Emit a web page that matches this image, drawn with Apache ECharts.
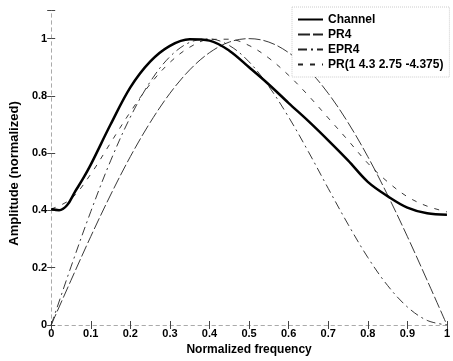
<!DOCTYPE html>
<html>
<head>
<meta charset="utf-8">
<script src="https://cdn.jsdelivr.net/npm/echarts@6/dist/echarts.min.js"></script>
<style>
html,body{margin:0;padding:0;background:#fff;}
#chart{width:453px;height:361px;}
</style>
</head>
<body>
<div id="chart"></div>
<script>
// ---- data ----
var seriesNames = ['Channel', 'PR4', 'EPR4', 'PR(1 4.3 2.75 -4.375)'];
var xTicks = [0, 0.1, 0.2, 0.3, 0.4, 0.5, 0.6, 0.7, 0.8, 0.9, 1];
var yTicks = [0, 0.2, 0.4, 0.6, 0.8, 1];

var channelFreq = [0, 0.02, 0.04, 0.06, 0.08, 0.1, 0.15, 0.2, 0.25, 0.3, 0.35, 0.4, 0.45, 0.5, 0.55, 0.6, 0.65, 0.7, 0.75, 0.8, 0.85, 0.9, 0.95, 1.0];
var channel     = [0.405, 0.401, 0.418, 0.465, 0.51, 0.56, 0.70, 0.83, 0.92, 0.975, 0.998, 0.993, 0.958, 0.90, 0.84, 0.775, 0.712, 0.645, 0.575, 0.50, 0.45, 0.41, 0.39, 0.385];

var freq     = [0, 0.05, 0.1, 0.15, 0.2, 0.25, 0.3, 0.35, 0.4, 0.45, 0.5, 0.55, 0.6, 0.65, 0.7, 0.75, 0.8, 0.85, 0.9, 0.95, 1.0];
var pr4      = [0, 0.156, 0.309, 0.454, 0.588, 0.707, 0.809, 0.891, 0.951, 0.988, 1.0, 0.988, 0.951, 0.891, 0.809, 0.707, 0.588, 0.454, 0.309, 0.156, 0.0];
var epr4     = [0, 0.203, 0.396, 0.573, 0.726, 0.849, 0.937, 0.987, 0.999, 0.976, 0.919, 0.833, 0.726, 0.605, 0.477, 0.352, 0.236, 0.138, 0.063, 0.016, 0.0];
var prTarget = [0.405, 0.440, 0.527, 0.636, 0.744, 0.841, 0.917, 0.970, 0.997, 0.998, 0.976, 0.932, 0.872, 0.801, 0.723, 0.645, 0.565, 0.50, 0.448, 0.415, 0.395];

function pairs(xs, ys){ var o=[]; for(var i=0;i<xs.length;i++){o.push([xs[i], ys[i]]);} return o; }

var FONT = '"Liberation Sans", Arial, sans-serif';
var chart = echarts.init(document.getElementById('chart'), null, {renderer:'canvas'});

function axisCommon(){
  return {
    axisLine:{show:true, lineStyle:{color:'#aaa', width:1, type:[3,4]}},
    axisTick:{show:true, inside:true, length:4, lineStyle:{color:'#444', width:1}},
    splitLine:{show:false}
  };
}

var xBottom = Object.assign(axisCommon(), {
  type:'value', position:'bottom', min:0, max:1, interval:0.1,
  name:'Normalized frequency', nameLocation:'middle', nameGap:19,
  nameTextStyle:{fontFamily:FONT, fontWeight:'bold', fontSize:12, color:'#000'},
  axisLabel:{show:true, margin:3, fontFamily:FONT, fontWeight:'bold', fontSize:11, color:'#000',
    formatter:function(v){ return String(Math.round(v*10)/10); }}
});
var xTop = Object.assign(axisCommon(), {
  type:'value', position:'top', min:0, max:1, interval:0.1, axisLabel:{show:false}
});
var yLeft = Object.assign(axisCommon(), {
  type:'value', position:'left', min:0, max:1.1, interval:0.2,
  name:'Amplitude (normalized)', nameLocation:'middle', nameGap:25,
  nameTextStyle:{fontFamily:FONT, fontWeight:'bold', fontSize:13, color:'#000', padding:[0,12,0,0]},
  axisLabel:{show:true, margin:4, fontFamily:FONT, fontWeight:'bold', fontSize:11, color:'#000',
    formatter:function(v){ return v > 1.05 ? '' : String(Math.round(v*10)/10); }}
});
var yRight = Object.assign(axisCommon(), {
  type:'value', position:'right', min:0, max:1.1, interval:0.2, axisLabel:{show:false}
});

chart.setOption({
  backgroundColor:'#fff',
  animation:false,
  grid:{left:47, right:2, top:10, bottom:35, containLabel:false},
  xAxis:[xBottom, xTop],
  yAxis:[yLeft, yRight],
  legend:{
    show:true, orient:'vertical', left:292, top:7,
    itemWidth:25, itemHeight:10, itemGap:0,
    padding:[5,6,5,5],
    borderColor:'#ccc', borderWidth:1, borderType:'dotted',
    backgroundColor:'#fff',
    itemStyle:{opacity:0},
    textStyle:{fontFamily:FONT, fontWeight:'bold', fontSize:12, color:'#000', lineHeight:15},
    data:seriesNames
  },
  series:[
    {name:seriesNames[0], type:'line', data:pairs(channelFreq, channel), smooth:0.35, showSymbol:false, symbol:'none',
      lineStyle:{color:'#000', width:2.5, type:'solid'}, itemStyle:{color:'#000'}, z:5},
    {name:seriesNames[1], type:'line', data:pairs(freq, pr4), smooth:0.35, showSymbol:false, symbol:'none',
      lineStyle:{color:'#222', width:0.9, type:[12,3]}, itemStyle:{color:'#222'}},
    {name:seriesNames[2], type:'line', data:pairs(freq, epr4), smooth:0.35, showSymbol:false, symbol:'none',
      lineStyle:{color:'#222', width:0.9, type:[9,4,2,4]}, itemStyle:{color:'#222'}},
    {name:seriesNames[3], type:'line', data:pairs(freq, prTarget), smooth:0.35, showSymbol:false, symbol:'none',
      lineStyle:{color:'#222', width:0.9, type:[5,7]}, itemStyle:{color:'#222'}}
  ]
});
</script>
</body>
</html>
